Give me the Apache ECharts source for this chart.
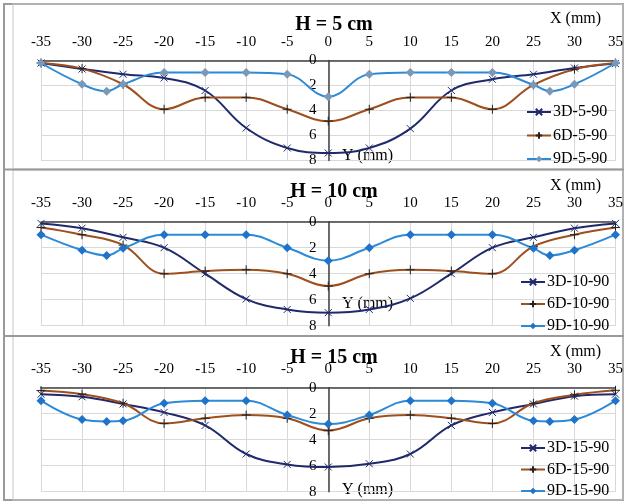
<!DOCTYPE html>
<html>
<head>
<meta charset="utf-8">
<script src="https://cdn.jsdelivr.net/npm/echarts@6/dist/echarts.min.js"></script>
<style>
  html, body { margin: 0; padding: 0; background: #fff; }
  #chart { width: 626px; height: 502px; }
</style>
</head>
<body>
<div id="chart"></div>
<script>
// x positions (mm)
const xMain = [-35, -30, -25, -20, -15, -10, -5, 0, 5, 10, 15, 20, 25, 30, 35]
const x9D = [-35, -30, -27, -25, -20, -15, -10, -5, 0, 5, 10, 15, 20, 25, 27, 30, 35]

// H = 5 cm
const d3_5 = [0.2, 0.68, 1.1, 1.4, 2.4, 5.4, 7.0, 7.4, 7.0, 5.45, 2.4, 1.5, 1.1, 0.6, 0.25]
const d6_5 = [0.2, 0.65, 1.9, 3.9, 2.95, 2.95, 3.9, 4.85, 3.9, 2.95, 2.95, 3.9, 1.95, 0.7, 0.2]
const d9_5 = [0.2, 1.9, 2.45, 1.9, 0.95, 0.95, 0.95, 1.1, 2.9, 1.1, 0.95, 0.95, 0.95, 1.95, 2.45, 1.9, 0.2]
// H = 10 cm
const d3_10 = [0.13, 0.5, 1.2, 2.0, 4.0, 5.95, 6.75, 7.0, 6.75, 5.9, 4.0, 2.0, 1.2, 0.5, 0.13]
const d6_10 = [0.45, 1.0, 1.8, 4.0, 3.8, 3.7, 4.0, 4.95, 4.0, 3.7, 3.8, 4.0, 1.9, 1.0, 0.45]
const d9_10 = [1.0, 2.2, 2.6, 2.05, 1.0, 1.0, 1.0, 2.0, 3.0, 2.0, 1.0, 1.0, 1.0, 2.05, 2.6, 2.2, 1.0]
// H = 15 cm
const d3_15 = [0.5, 0.7, 1.25, 1.9, 2.9, 5.1, 5.9, 6.1, 5.85, 5.1, 2.9, 1.9, 1.25, 0.65, 0.5]
const d6_15 = [0.22, 0.5, 1.2, 2.75, 2.35, 2.1, 2.35, 3.3, 2.35, 2.1, 2.35, 2.75, 1.2, 0.55, 0.2]
const d9_15 = [1.0, 2.45, 2.6, 2.55, 1.2, 1.0, 1.0, 2.1, 2.8, 2.1, 1.0, 1.0, 1.2, 2.55, 2.6, 2.45, 1.0]

const panelTitles = ['H = 5 cm', 'H = 10 cm', 'H = 15 cm']
const heights = ['5', '10', '15']
const panelData = [[d3_5, d6_5, d9_5], [d3_10, d6_10, d9_10], [d3_15, d6_15, d9_15]]

const FONT = 'Liberation Serif'
const NAVY = '#1f2a6b'
const BROWN = '#9e4f1d'
const SKY = '#2c8ad6'
const diamondColors = ['#7a98b8', '#1f73c9', '#1f73c9']

const SYM_X = 'path://M0,0L10,10M10,0L0,10'
const SYM_PLUS = 'path://M5,0L5,10M0,5L10,5'

// layout of each panel
const grids = [
  { top: 60.5, height: 100 },
  { top: 221.7, height: 104 },
  { top: 387.7, height: 104 },
]
const titleTops = [10, 177, 343]
const legendTops = [104, 274, 440]
const legendGaps = [7.5, 6, 5.5]
const legendLefts = [526, 520, 520]
const yNameTops = [157, 305, 491]

function pairs(xs, ys) {
  return xs.map((x, i) => [x, ys[i]])
}

const chart = echarts.init(document.getElementById('chart'))

const series = []
panelData.forEach((d, i) => {
  const h = heights[i]
  series.push({
    name: '3D-' + h + '-90', type: 'line', xAxisIndex: i, yAxisIndex: i,
    data: pairs(xMain, d[0]), smooth: 0.4,
    symbol: SYM_X, symbolSize: 7,
    lineStyle: { color: NAVY, width: 2 },
    itemStyle: { color: NAVY, borderColor: NAVY, borderWidth: 1 },
  })
  series.push({
    name: '6D-' + h + '-90', type: 'line', xAxisIndex: i, yAxisIndex: i,
    data: pairs(xMain, d[1]), smooth: 0.4,
    symbol: SYM_PLUS, symbolSize: 9,
    lineStyle: { color: BROWN, width: 2 },
    itemStyle: { color: '#222', borderColor: '#222', borderWidth: 1 },
  })
  series.push({
    name: '9D-' + h + '-90', type: 'line', xAxisIndex: i, yAxisIndex: i,
    data: pairs(x9D, d[2]), smooth: 0.4,
    symbol: 'diamond', symbolSize: 9,
    lineStyle: { color: SKY, width: 2 },
    itemStyle: { color: diamondColors[i] },
  })
})

const option = {
  animation: false,
  backgroundColor: '#fff',
  textStyle: { fontFamily: FONT },
  title: panelTitles.map((t, i) => ({
    text: t,
    left: 329,
    top: titleTops[i],
    textAlign: 'center',
    textStyle: { fontFamily: FONT, fontSize: 20, fontWeight: 'bold', color: '#000' },
  })),
  legend: heights.map((h, i) => ({
    data: ['3D-' + h + '-90', '6D-' + h + '-90', '9D-' + h + '-90'],
    orient: 'vertical',
    left: legendLefts[i],
    top: legendTops[i],
    padding: 0,
    itemWidth: 24,
    itemHeight: 8,
    itemGap: legendGaps[i],
    textStyle: { fontFamily: FONT, fontSize: 16, color: '#000', padding: [0, 0, 0, -3] },
  })),
  grid: grids.map(g => ({ left: 41, right: 10, top: g.top, height: g.height })),
  xAxis: grids.map((g, i) => ({
    type: 'value', gridIndex: i, position: 'top',
    min: -35, max: 35, interval: 5,
    axisLine: { show: true, onZero: false, lineStyle: { color: '#404040', width: 1.5 } },
    axisTick: { show: false },
    axisLabel: { margin: 11, fontFamily: FONT, fontSize: 15, color: '#000' },
    splitLine: { show: true, lineStyle: { color: '#d9d9d9', width: 1 } },
  })),
  yAxis: grids.map((g, i) => ({
    type: 'value', gridIndex: i, inverse: true,
    min: 0, max: 8, interval: 2,
    position: 'left',
    offset: -287.5,
    axisLine: { show: true, onZero: false, lineStyle: { color: '#404040', width: 1.5 } },
    axisTick: { show: false },
    axisLabel: { margin: 12, fontFamily: FONT, fontSize: 15, color: '#000' },
    splitLine: { show: true, lineStyle: { color: '#d9d9d9', width: 1 } },
  })),
  graphic: [
    // panel frames
    { type: 'rect', shape: { x: 4, y: 4, width: 619, height: 496 }, style: { fill: 'none', stroke: '#9a9a9a', lineWidth: 2 }, silent: true },
    { type: 'rect', shape: { x: 13, y: 4, width: 610, height: 165 }, style: { fill: 'none', stroke: '#c8c8c8', lineWidth: 1 }, silent: true },
    { type: 'rect', shape: { x: 13, y: 170, width: 610, height: 166 }, style: { fill: 'none', stroke: '#c8c8c8', lineWidth: 1 }, silent: true },
    { type: 'rect', shape: { x: 13, y: 336, width: 610, height: 164 }, style: { fill: 'none', stroke: '#c8c8c8', lineWidth: 1 }, silent: true },
    { type: 'line', shape: { x1: 4, y1: 169.5, x2: 624, y2: 169.5 }, style: { stroke: '#9a9a9a', lineWidth: 2 }, silent: true },
    { type: 'line', shape: { x1: 4, y1: 336, x2: 624, y2: 336 }, style: { stroke: '#9a9a9a', lineWidth: 2 }, silent: true },
  ].concat(titleTops.map(t => ({
    type: 'text', left: 550, top: t + 1,
    style: { text: 'X (mm)', fontFamily: FONT, fontSize: 16, fill: '#000' },
  }))).concat(yNameTops.map(t => ({
    type: 'text', left: 342, top: t - 9,
    style: { text: 'Y (mm)', fontFamily: FONT, fontSize: 16, fill: '#000' },
  }))),
  series: series,
}

chart.setOption(option)
</script>
</body>
</html>
